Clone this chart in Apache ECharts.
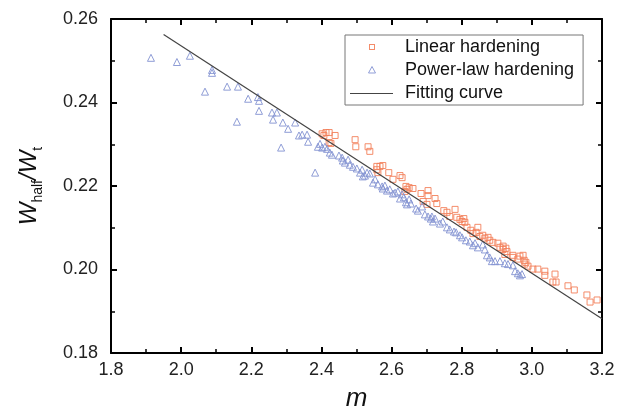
<!DOCTYPE html>
<html><head><meta charset="utf-8">
<script src="https://cdn.jsdelivr.net/npm/echarts@6/dist/echarts.min.js"></script>
<style>html,body{margin:0;padding:0;background:#fff}#c{width:622px;height:417px}</style>
</head><body><div id="c"></div>
<script>
const xTicks = [1.8, 2.0, 2.2, 2.4, 2.6, 2.8, 3.0, 3.2];
const yTicks = [0.18, 0.20, 0.22, 0.24, 0.26];

const linearM = [2.402,2.413,2.422,2.439,2.407,2.422,2.427,2.496,2.498,2.533,2.538,2.558,2.567,2.575,2.558,2.561,2.592,2.604,2.624,2.630,2.641,2.644,2.650,2.661,2.638,2.684,2.704,2.704,2.690,2.701,2.724,2.729,2.749,2.758,2.766,2.781,2.786,2.795,2.806,2.801,2.809,2.815,2.826,2.832,2.841,2.846,2.852,2.860,2.866,2.875,2.880,2.889,2.903,2.909,2.918,2.926,2.918,2.929,2.923,2.946,2.966,2.975,2.946,2.960,2.978,2.983,2.989,2.980,3.003,3.017,3.037,3.037,3.066,3.060,3.069,3.103,3.121,3.157,3.166,3.186];
const linearW = [0.2325,0.2328,0.2328,0.2321,0.2321,0.2304,0.2302,0.2311,0.2294,0.2294,0.2283,0.2247,0.2247,0.2249,0.2239,0.2232,0.2232,0.2216,0.2225,0.2220,0.2199,0.2192,0.2196,0.2194,0.2187,0.2182,0.2189,0.2177,0.2163,0.2156,0.2170,0.2158,0.2141,0.2137,0.2127,0.2144,0.2125,0.2120,0.2122,0.2115,0.2113,0.2101,0.2094,0.2086,0.2089,0.2101,0.2079,0.2082,0.2075,0.2077,0.2070,0.2065,0.2063,0.2053,0.2056,0.2051,0.2048,0.2043,0.2036,0.2034,0.2032,0.2034,0.2029,0.2025,0.2022,0.2017,0.2008,0.2013,0.2001,0.2001,0.1996,0.1986,0.1989,0.1970,0.1970,0.1961,0.1951,0.1939,0.1922,0.1927];

const powerM = [1.914,1.988,2.025,2.068,2.088,2.088,2.131,2.162,2.191,2.219,2.222,2.222,2.159,2.259,2.273,2.262,2.290,2.305,2.325,2.336,2.345,2.359,2.362,2.285,2.382,2.390,2.396,2.402,2.410,2.416,2.424,2.430,2.450,2.459,2.461,2.481,2.490,2.501,2.510,2.518,2.516,2.530,2.538,2.547,2.553,2.561,2.573,2.575,2.587,2.595,2.604,2.610,2.618,2.630,2.635,2.641,2.644,2.650,2.670,2.687,2.695,2.704,2.715,2.718,2.712,2.724,2.758,2.766,2.778,2.784,2.795,2.812,2.823,2.832,2.846,2.860,2.866,2.872,2.880,2.886,2.895,2.909,2.946,2.952,2.960,2.966,2.972,2.467,2.476,2.524,2.581,2.624,2.655,2.675,2.738,2.746,2.801,2.838,2.923,2.932];
const powerW = [0.2507,0.2497,0.2512,0.2426,0.2478,0.2471,0.2438,0.2438,0.2409,0.2413,0.2404,0.2380,0.2354,0.2376,0.2376,0.2359,0.2352,0.2337,0.2352,0.2321,0.2323,0.2323,0.2306,0.2292,0.2232,0.2294,0.2301,0.2292,0.2294,0.2289,0.2280,0.2275,0.2273,0.2268,0.2261,0.2251,0.2246,0.2242,0.2232,0.2223,0.2239,0.2232,0.2230,0.2208,0.2216,0.2204,0.2199,0.2194,0.2189,0.2192,0.2182,0.2184,0.2187,0.2180,0.2173,0.2161,0.2156,0.2168,0.2146,0.2151,0.2132,0.2127,0.2127,0.2115,0.2122,0.2122,0.2101,0.2096,0.2091,0.2089,0.2082,0.2070,0.2067,0.2058,0.2053,0.2060,0.2048,0.2034,0.2029,0.2020,0.2020,0.2020,0.2010,0.1996,0.1991,0.1986,0.1989,0.2256,0.2263,0.2225,0.2201,0.2170,0.2158,0.2141,0.2110,0.2115,0.2077,0.2063,0.2015,0.2013];

const fitM = [1.95, 3.2];
const fitW = [0.2563, 0.1882];

const seriesNames = ['Linear hardening', 'Power-law hardening', 'Fitting curve'];
const ORANGE = '#f3805a', BLUE = '#8392d2', LINE = '#444444';

const zip = (a, b) => a.map((v, i) => [v, b[i]]);
const svgIcon = body => 'image://data:image/svg+xml;charset=utf-8,' + encodeURIComponent(
  "<svg xmlns='http://www.w3.org/2000/svg' width='51' height='18' viewBox='0 0 51 18'>" + body + "</svg>");
const icons = [
  svgIcon("<rect x='20.5' y='6.5' width='5' height='5' fill='none' stroke='" + ORANGE + "' stroke-width='1'/>"),
  svgIcon("<polygon points='23,5.5 26.5,12 19.5,12' fill='none' stroke='" + BLUE + "' stroke-width='1'/>"),
  svgIcon("<line x1='1' y1='9.5' x2='44' y2='9.5' stroke='" + LINE + "' stroke-width='1.2'/>")
];

const FONT = 'Liberation Sans';
const axisCommon = {
  type: 'value',
  axisLine: { show: true, onZero: false, lineStyle: { color: '#000', width: 2 } },
  axisTick: { show: true, inside: true, length: 6, lineStyle: { color: '#000', width: 2 } },
  minorTick: { show: true, splitNumber: 2, length: 4, lineStyle: { color: '#000', width: 1.5 } },
  splitLine: { show: false },
  minorSplitLine: { show: false }
};

const chart = echarts.init(document.getElementById('c'), null, { renderer: 'canvas' });
chart.setOption({
  backgroundColor: '#fff',
  animation: false,
  grid: { left: 111, right: 20, top: 19, bottom: 63, containLabel: false },
  legend: {
    orient: 'vertical', left: 345, top: 35,
    itemWidth: 51, itemHeight: 18, itemGap: 5,
    borderColor: '#777', borderWidth: 1, borderRadius: 0, padding: [3, 9, 3, 4],
    textStyle: { fontFamily: FONT, fontSize: 18, color: '#111' },
    data: seriesNames.map((n, i) => ({ name: n, icon: icons[i] }))
  },
  xAxis: [
    Object.assign({}, axisCommon, {
      min: xTicks[0], max: xTicks[xTicks.length - 1], interval: 0.2,
      position: 'bottom',
      name: 'm', nameLocation: 'middle', nameGap: 33,
      nameTextStyle: { fontFamily: FONT, fontSize: 26, fontStyle: 'italic', color: '#111' },
      axisLabel: { margin: 8, fontFamily: FONT, fontSize: 18, color: '#222', formatter: v => v.toFixed(1) }
    }),
    Object.assign({}, axisCommon, {
      min: xTicks[0], max: xTicks[xTicks.length - 1], interval: 0.2,
      position: 'top', axisLabel: { show: false }
    })
  ],
  yAxis: [
    Object.assign({}, axisCommon, {
      min: yTicks[0], max: yTicks[yTicks.length - 1], interval: 0.02,
      position: 'left',
      name: '{w|W}{s|half}{w|/W}{s|t}', nameLocation: 'middle', nameGap: 66,
      nameTextStyle: {
        fontFamily: FONT, color: '#111',
        rich: {
          w: { fontFamily: FONT, fontSize: 24, fontStyle: 'italic', color: '#111', verticalAlign: 'bottom', lineHeight: 32, padding: [0, 0, 4, 0] },
          s: { fontFamily: FONT, fontSize: 14, color: '#111', verticalAlign: 'bottom', lineHeight: 32 }
        }
      },
      axisLabel: { margin: 13, fontFamily: FONT, fontSize: 18, color: '#222', formatter: v => v.toFixed(2) }
    }),
    Object.assign({}, axisCommon, {
      min: yTicks[0], max: yTicks[yTicks.length - 1], interval: 0.02,
      position: 'right', axisLabel: { show: false }
    })
  ],
  series: [
    {
      name: seriesNames[0], type: 'scatter', xAxisIndex: 0, yAxisIndex: 0,
      symbol: 'rect', symbolSize: 6,
      itemStyle: { color: 'rgba(0,0,0,0)', borderColor: ORANGE, borderWidth: 1, opacity: 0.9 },
      data: zip(linearM, linearW), z: 2
    },
    {
      name: seriesNames[1], type: 'scatter', xAxisIndex: 0, yAxisIndex: 0,
      symbol: 'triangle', symbolSize: 7,
      itemStyle: { color: 'rgba(0,0,0,0)', borderColor: BLUE, borderWidth: 1, opacity: 0.9 },
      data: zip(powerM, powerW), z: 3
    },
    {
      name: seriesNames[2], type: 'line', xAxisIndex: 0, yAxisIndex: 0,
      symbol: 'none', lineStyle: { color: LINE, width: 1.2 },
      data: zip(fitM, fitW), z: 4
    }
  ]
});
</script></body></html>
